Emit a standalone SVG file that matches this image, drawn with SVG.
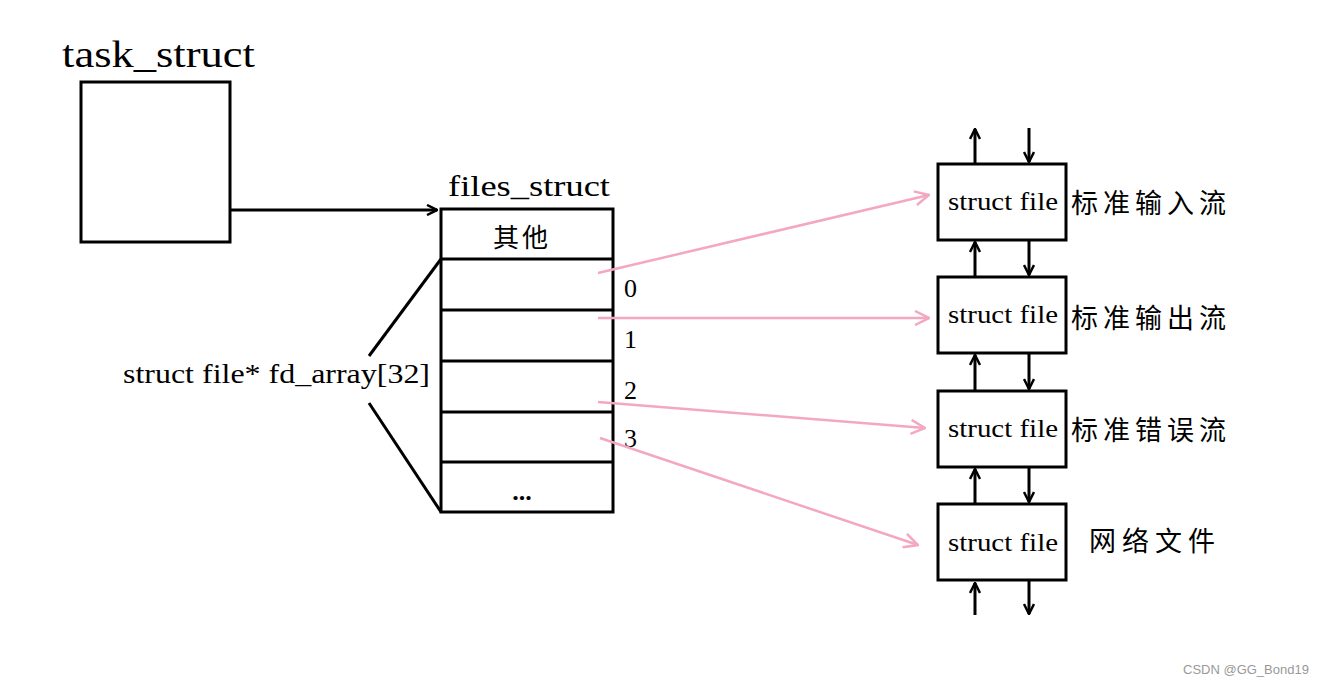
<svg xmlns="http://www.w3.org/2000/svg" width="1332" height="686" viewBox="0 0 1332 686">
<style>
.box{fill:#fff;stroke:#000;stroke-width:3}
.ln{stroke:#000;stroke-width:3;fill:none}
.pk{stroke:#f4a7c2;stroke-width:2.5;fill:none}
.t{font-family:"Liberation Serif","Noto Sans CJK SC",serif;fill:#000}
.c{font-family:"Noto Sans CJK SC",sans-serif;fill:#000}
.w{font-family:"Liberation Sans",Arial,sans-serif;fill:#999;font-size:13px}
</style>
<defs>
<marker id="ab" viewBox="0 0 12 12" refX="11" refY="6" markerWidth="12" markerHeight="12" markerUnits="userSpaceOnUse" orient="auto">
<path d="M1,1 L11,6 L1,11" fill="none" stroke="#000" stroke-width="2.5"/>
</marker>
<marker id="ap" viewBox="0 0 16 16" refX="15" refY="8" markerWidth="16" markerHeight="16" markerUnits="userSpaceOnUse" orient="auto">
<path d="M1,1 L15,8 L1,15" fill="none" stroke="#f4a7c2" stroke-width="2.5"/>
</marker>
</defs>
<rect width="1332" height="686" fill="#fff"/>

<g id="task_struct">
<text class="t" x="62" y="67" font-size="37" textLength="193" lengthAdjust="spacingAndGlyphs">task_struct</text>
<rect class="box" x="81" y="82" width="149" height="160"/>
</g>

<g id="files_struct">
<text class="t" x="448" y="196" font-size="30" textLength="162" lengthAdjust="spacingAndGlyphs">files_struct</text>
<rect class="box" x="441" y="209" width="172" height="303"/>
<line class="ln" x1="441" y1="259" x2="613" y2="259"/>
<line class="ln" x1="441" y1="310" x2="613" y2="310"/>
<line class="ln" x1="441" y1="361" x2="613" y2="361"/>
<line class="ln" x1="441" y1="412" x2="613" y2="412"/>
<line class="ln" x1="441" y1="462" x2="613" y2="462"/>
<text class="c" x="522" y="247" font-size="26" text-anchor="middle" letter-spacing="3">其他</text>
<text class="t" x="522" y="500" font-size="26" text-anchor="middle" font-weight="bold">...</text>
<text class="t" x="624" y="297" font-size="26">0</text>
<text class="t" x="624" y="348" font-size="26">1</text>
<text class="t" x="624" y="399" font-size="26">2</text>
<text class="t" x="624" y="447" font-size="26">3</text>
</g>

<g id="fd_array">
<line class="ln" x1="441" y1="259" x2="369" y2="356"/>
<line class="ln" x1="369" y1="403" x2="441" y2="512"/>
<text class="t" x="123" y="383" font-size="27" textLength="307" lengthAdjust="spacingAndGlyphs">struct file* fd_array[32]</text>
</g>

<g id="file0">
<rect class="box" x="938" y="164" width="128" height="76"/>
<text class="t" x="948" y="210" font-size="25" textLength="110" lengthAdjust="spacingAndGlyphs">struct file</text>
<text class="c" x="1071" y="213" font-size="27" letter-spacing="5">标准输入流</text>
</g>
<g id="file1">
<rect class="box" x="938" y="277" width="128" height="76"/>
<text class="t" x="948" y="323" font-size="25" textLength="110" lengthAdjust="spacingAndGlyphs">struct file</text>
<text class="c" x="1071" y="328" font-size="27" letter-spacing="5">标准输出流</text>
</g>
<g id="file2">
<rect class="box" x="938" y="391" width="128" height="76"/>
<text class="t" x="948" y="437" font-size="25" textLength="110" lengthAdjust="spacingAndGlyphs">struct file</text>
<text class="c" x="1071" y="440" font-size="27" letter-spacing="5">标准错误流</text>
</g>
<g id="file3">
<rect class="box" x="938" y="504" width="128" height="76"/>
<text class="t" x="948" y="551" font-size="25" textLength="110" lengthAdjust="spacingAndGlyphs">struct file</text>
<text class="c" x="1089" y="551" font-size="27" letter-spacing="6">网络文件</text>
</g>

<g id="connectors">
<line class="ln" x1="230" y1="210" x2="437" y2="210" marker-end="url(#ab)"/>
<line class="pk" x1="598" y1="273" x2="929" y2="195" marker-end="url(#ap)"/>
<line class="pk" x1="598" y1="318" x2="929" y2="318" marker-end="url(#ap)"/>
<line class="pk" x1="598" y1="402" x2="925" y2="428" marker-end="url(#ap)"/>
<line class="pk" x1="600" y1="438" x2="918" y2="545" marker-end="url(#ap)"/>
<line class="ln" x1="975" y1="164" x2="975" y2="129" marker-end="url(#ab)"/>
<line class="ln" x1="1029" y1="128" x2="1029" y2="162" marker-end="url(#ab)"/>
<line class="ln" x1="975" y1="277" x2="975" y2="242" marker-end="url(#ab)"/>
<line class="ln" x1="1029" y1="241" x2="1029" y2="275" marker-end="url(#ab)"/>
<line class="ln" x1="975" y1="391" x2="975" y2="355" marker-end="url(#ab)"/>
<line class="ln" x1="1029" y1="354" x2="1029" y2="389" marker-end="url(#ab)"/>
<line class="ln" x1="975" y1="504" x2="975" y2="469" marker-end="url(#ab)"/>
<line class="ln" x1="1029" y1="467" x2="1029" y2="502" marker-end="url(#ab)"/>
<line class="ln" x1="975" y1="615" x2="975" y2="583" marker-end="url(#ab)"/>
<line class="ln" x1="1029" y1="581" x2="1029" y2="614" marker-end="url(#ab)"/>
</g>

<text class="w" x="1183" y="674">CSDN @GG_Bond19</text>
</svg>
